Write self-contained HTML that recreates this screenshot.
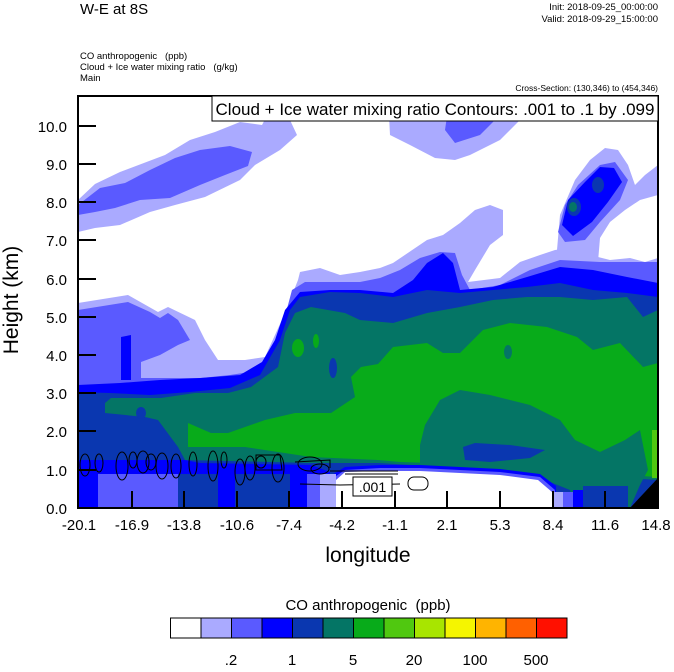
<!DOCTYPE html>
<html><head><meta charset="utf-8"><style>
html,body{margin:0;padding:0;background:#fff;}
body{width:674px;height:667px;overflow:hidden;}
text{font-family:"Liberation Sans",sans-serif;white-space:pre;}
</style></head><body>
<svg width="674" height="667" viewBox="0 0 674 667" xmlns="http://www.w3.org/2000/svg">
<defs><clipPath id="c"><rect x="78" y="96" width="580" height="412"/></clipPath></defs>
<g clip-path="url(#c)">
<!-- upper-left band -->
<polygon fill="#aaaaff" points="78,200 95,184 120,172 165,155 190,140 215,132 240,122 262,125 270,110 290,120 297,135 280,150 255,165 240,180 205,197 175,205 150,212 120,225 95,228 78,232"/>
<polygon fill="#5a5aff" points="78,205 100,188 125,183 150,170 175,158 200,150 230,146 252,152 248,166 225,175 200,185 170,198 140,200 115,208 95,212 78,215"/>
<!-- top band -->
<polygon fill="#aaaaff" points="388,96 525,96 520,120 500,140 470,155 455,160 435,158 410,145 390,135"/>
<polygon fill="#5a5aff" points="450,96 505,96 500,115 480,135 455,143 445,130"/>
<!-- right tower -->
<polygon fill="#aaaaff" points="557,250 560,215 575,180 590,160 605,148 618,150 628,165 635,185 645,175 658,165 658,195 640,200 625,210 610,222 600,238 598,262 560,262"/>
<polygon fill="#5a5aff" points="558,232 565,205 578,185 600,165 615,162 628,180 620,200 600,222 585,240 565,242"/>
<polygon fill="#0000ff" points="562,225 568,200 585,182 600,167 614,168 622,182 608,202 592,222 573,236"/>
<ellipse cx="598" cy="185" rx="6" ry="8" fill="#0a37b0"/>
<ellipse cx="574" cy="207" rx="7" ry="9" fill="#0a37b0"/>
<ellipse cx="573" cy="207" rx="4" ry="5" fill="#047565"/>
<!-- main body layers -->
<polygon fill="#aaaaff" points="78,303 128,295 158,312 168,307 195,320 205,340 218,360 245,360 265,357 285,313 298,280 300,272 320,268 340,275 360,272 380,268 393,263 427,240 443,235 460,223 475,210 490,205 503,210 503,235 490,245 475,270 468,282 500,278 520,262 540,255 555,250 570,248 590,255 610,260 630,258 645,262 658,258 658,508 78,508"/>
<polygon fill="#5a5aff" points="78,310 128,302 150,312 160,318 168,313 178,320 190,340 178,345 160,355 141,362 141,378 201,378 230,375 262,370 280,335 292,290 305,282 330,282 360,282 380,278 400,270 420,258 440,252 455,253 462,275 470,290 500,285 530,270 560,260 600,262 640,262 658,262 658,508 78,508"/>
<polygon fill="#0000ff" points="78,385 120,383 160,380 200,378 240,375 262,362 275,340 285,310 300,292 330,290 360,290 393,293 413,280 427,263 443,253 453,263 460,290 493,287 527,277 560,267 593,270 627,277 658,283 658,508 78,508"/>
<polygon fill="#0000ff" points="121,337 131,335 131,380 121,380"/>
<polygon fill="#0a37b0" points="78,392 110,393 150,395 190,392 230,388 260,375 280,340 290,310 300,297 330,292 360,293 393,297 427,290 460,293 493,290 527,287 560,283 593,290 627,293 658,297 658,508 78,508"/>
<polygon fill="#047565" points="105,403 111,398 161,398 195,393 228,393 251,387 278,367 285,333 295,313 311,307 345,313 360,320 393,323 427,313 460,307 493,300 527,297 560,297 593,300 627,297 643,317 658,310 658,480 378,463 311,463 185,460 178,447 158,420 145,417 105,413"/>
<ellipse cx="141" cy="413" rx="5" ry="6" fill="#0a37b0"/>
<polygon fill="#08ab1a" points="188,423 211,433 228,433 245,427 265,420 295,413 331,413 355,397 351,377 361,367 378,364 393,347 427,343 443,353 460,353 483,330 510,323 547,327 577,337 593,350 620,343 643,367 658,363 658,477 430,463 400,462 378,460 311,457 245,447 188,447"/>
<ellipse cx="298" cy="348" rx="6" ry="9" fill="#08ab1a"/>
<ellipse cx="316" cy="341" rx="3" ry="7" fill="#08ab1a"/>
<ellipse cx="333" cy="368" rx="4" ry="10" fill="#0a37b0"/>
<polygon fill="#047565" points="420,445 425,425 440,400 460,390 490,395 530,405 560,420 575,440 600,452 625,440 640,430 648,470 640,485 630,508 575,508 570,490 540,478 460,470 420,465"/>
<polygon fill="#0a37b0" points="463,447 475,443 510,445 545,450 530,458 490,462 465,460"/>
<ellipse cx="508" cy="352" rx="4" ry="7" fill="#047565"/>
<rect x="652" y="430" width="6" height="48" fill="#50c810"/>
<!-- bottom strips -->
<polygon fill="#0000ff" points="330,476 345,467 380,465 420,465 460,467 500,469 540,474 556,486 556,508 330,508"/>
<polygon fill="#5a5aff" points="333,478 345,470 380,468 420,468 460,470 500,472 540,477 555,490 555,508 333,508"/>
<polygon fill="#ffffff" points="336,480 345,472 380,471 420,471 460,473 500,475 538,480 552,492 552,508 336,508"/>
<rect x="553" y="492" width="10" height="16" fill="#aaaaff"/>
<rect x="563" y="492" width="10" height="16" fill="#5a5aff"/>
<rect x="573" y="490" width="10" height="18" fill="#0000ff"/>
<rect x="583" y="486" width="45" height="22" fill="#0a37b0"/>
<!-- lower-left -->
<polygon fill="#0000ff" points="78,460 185,460 200,463 311,465 330,472 330,478 78,478"/>
<rect x="78" y="474" width="20" height="34" fill="#0000ff"/>
<rect x="98" y="474" width="80" height="34" fill="#5a5aff"/>
<rect x="178" y="474" width="40" height="34" fill="#0a37b0"/>
<rect x="218" y="474" width="17" height="34" fill="#0000ff"/>
<rect x="235" y="474" width="55" height="34" fill="#0a37b0"/>
<rect x="290" y="474" width="17" height="34" fill="#0000ff"/>
<rect x="307" y="474" width="13" height="34" fill="#5a5aff"/>
<rect x="320" y="474" width="16" height="34" fill="#aaaaff"/>
<polygon fill="#000" points="630,508 658,478 658,508"/>
<!-- contours -->
<g fill="none" stroke="#000" stroke-width="1">
<ellipse cx="85" cy="465" rx="5" ry="11"/><ellipse cx="99" cy="463" rx="4" ry="9"/>
<ellipse cx="122" cy="466" rx="6" ry="14"/><ellipse cx="133" cy="460" rx="4" ry="8"/>
<ellipse cx="143" cy="462" rx="6" ry="11"/><ellipse cx="151" cy="462" rx="5" ry="8"/>
<ellipse cx="162" cy="466" rx="6" ry="13"/><ellipse cx="176" cy="466" rx="5" ry="12"/>
<ellipse cx="193" cy="464" rx="4" ry="12"/><ellipse cx="213" cy="466" rx="5" ry="15"/>
<ellipse cx="224" cy="460" rx="3" ry="8"/><ellipse cx="240" cy="472" rx="5" ry="13"/>
<ellipse cx="250" cy="468" rx="5" ry="12"/><ellipse cx="261" cy="462" rx="5" ry="6"/>
<ellipse cx="278" cy="468" rx="6" ry="14"/><ellipse cx="310" cy="464" rx="12" ry="7"/>
<ellipse cx="320" cy="469" rx="9" ry="5"/>
<path d="M256,455 L280,455 L282,470 L256,470 Z"/>
<path d="M295,462 L330,460 L330,468 M330,471 L398,471 M345,474 L398,474"/>
<path d="M300,484 L340,485 L400,484"/>
<rect x="408" y="477" width="20" height="13" rx="6"/>
</g>
<rect x="353" y="477" width="39" height="19" fill="#fff" stroke="#000"/>
<text x="372.5" y="492" font-size="14" text-anchor="middle">.001</text>
</g>
<!-- frame -->
<rect x="78" y="96" width="580" height="412" fill="none" stroke="#000" stroke-width="2"/>
<g stroke="#000" stroke-width="2">
<line x1="78" y1="126" x2="96" y2="126"/><line x1="78" y1="164" x2="96" y2="164"/><line x1="78" y1="202" x2="96" y2="202"/><line x1="78" y1="240" x2="96" y2="240"/><line x1="78" y1="279" x2="96" y2="279"/><line x1="78" y1="317" x2="96" y2="317"/><line x1="78" y1="355" x2="96" y2="355"/><line x1="78" y1="393" x2="96" y2="393"/><line x1="78" y1="431" x2="96" y2="431"/><line x1="78" y1="470" x2="96" y2="470"/>
<line x1="132" y1="508" x2="132" y2="491"/><line x1="184" y1="508" x2="184" y2="491"/><line x1="237" y1="508" x2="237" y2="491"/><line x1="289" y1="508" x2="289" y2="491"/><line x1="342" y1="508" x2="342" y2="491"/><line x1="395" y1="508" x2="395" y2="491"/><line x1="447" y1="508" x2="447" y2="491"/><line x1="500" y1="508" x2="500" y2="491"/><line x1="553" y1="508" x2="553" y2="491"/><line x1="605" y1="508" x2="605" y2="491"/>
</g>
<rect x="212" y="96" width="446" height="25" fill="#fff" stroke="#000"/>
<text x="435" y="115" font-size="17" text-anchor="middle">Cloud + Ice water mixing ratio Contours: .001 to .1 by .099</text>
<g font-size="15" text-anchor="end">
<text x="67" y="132">10.0</text><text x="67" y="170">9.0</text><text x="67" y="208">8.0</text><text x="67" y="246">7.0</text><text x="67" y="285">6.0</text><text x="67" y="323">5.0</text><text x="67" y="361">4.0</text><text x="67" y="399">3.0</text><text x="67" y="437">2.0</text><text x="67" y="476">1.0</text><text x="67" y="514">0.0</text>
</g>
<g font-size="15" text-anchor="middle">
<text x="79" y="530">-20.1</text><text x="132" y="530">-16.9</text><text x="184" y="530">-13.8</text><text x="237" y="530">-10.6</text><text x="289" y="530">-7.4</text><text x="342" y="530">-4.2</text><text x="395" y="530">-1.1</text><text x="447" y="530">2.1</text><text x="500" y="530">5.3</text><text x="553" y="530">8.4</text><text x="605" y="530">11.6</text><text x="656" y="530">14.8</text>
</g>
<text x="368" y="562" font-size="21" text-anchor="middle">longitude</text>
<text transform="translate(18,300) rotate(-90)" font-size="21" text-anchor="middle">Height (km)</text>
<text x="80" y="14" font-size="15">W-E at 8S</text>
<text x="658" y="10" font-size="9.5" text-anchor="end">Init: 2018-09-25_00:00:00</text>
<text x="658" y="22" font-size="9.5" text-anchor="end">Valid: 2018-09-29_15:00:00</text>
<text x="80" y="59" font-size="9.5">CO anthropogenic   (ppb)</text>
<text x="80" y="70" font-size="9.5">Cloud + Ice water mixing ratio   (g/kg)</text>
<text x="80" y="81" font-size="9.5">Main</text>
<text x="658" y="91" font-size="8.5" text-anchor="end">Cross-Section: (130,346) to (454,346)</text>
<!-- colorbar -->
<text x="368" y="610" font-size="15" text-anchor="middle">CO anthropogenic  (ppb)</text>
<g stroke="#000" stroke-width="1">
<rect x="170.5" y="618" width="30.5" height="20" fill="#ffffff"/>
<rect x="201" y="618" width="30.5" height="20" fill="#aaaaff"/>
<rect x="231.5" y="618" width="30.5" height="20" fill="#5a5aff"/>
<rect x="262" y="618" width="30.5" height="20" fill="#0000ff"/>
<rect x="292.5" y="618" width="30.5" height="20" fill="#0a37b0"/>
<rect x="323" y="618" width="30.5" height="20" fill="#047565"/>
<rect x="353.5" y="618" width="30.5" height="20" fill="#08ab1a"/>
<rect x="384" y="618" width="30.5" height="20" fill="#50c810"/>
<rect x="414.5" y="618" width="30.5" height="20" fill="#a8e500"/>
<rect x="445" y="618" width="30.5" height="20" fill="#f5f500"/>
<rect x="475.5" y="618" width="30.5" height="20" fill="#ffb400"/>
<rect x="506" y="618" width="30.5" height="20" fill="#ff6000"/>
<rect x="536.5" y="618" width="30.5" height="20" fill="#ff1000"/>
</g>
<g font-size="15" text-anchor="middle">
<text x="231" y="665">.2</text><text x="292" y="665">1</text><text x="353" y="665">5</text><text x="414" y="665">20</text><text x="475" y="665">100</text><text x="536" y="665">500</text>
</g>
</svg>
</body></html>
